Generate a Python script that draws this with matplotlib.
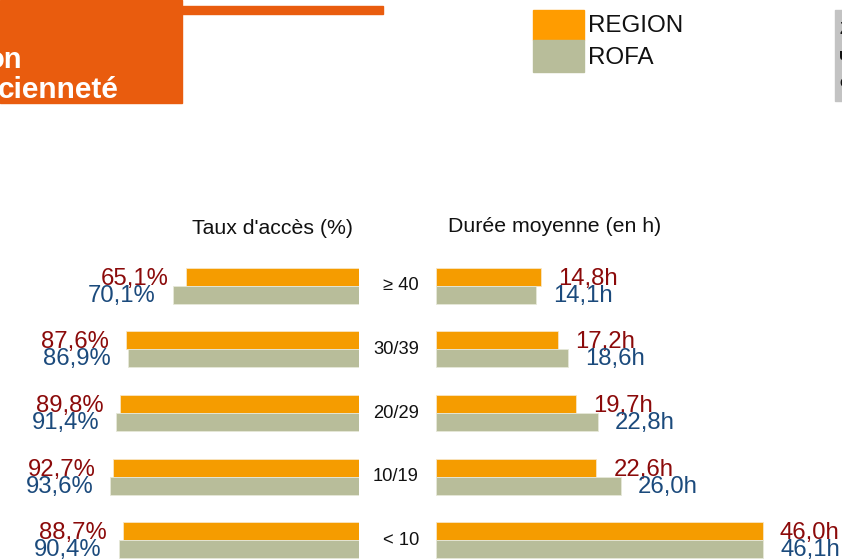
import matplotlib
matplotlib.use("Agg")
import matplotlib.pyplot as plt
from matplotlib.patches import Rectangle

plt.rcParams['font.family'] = ['Liberation Sans', 'DejaVu Sans']

categories = ["≥ 40", "30/39", "20/29", "10/19", "< 10"]
taux_region = [65.1, 87.6, 89.8, 92.7, 88.7]
taux_rofa = [70.1, 86.9, 91.4, 93.6, 90.4]
duree_region = [14.8, 17.2, 19.7, 22.6, 46.0]
duree_rofa = [14.1, 18.6, 22.8, 26.0, 46.1]
series_names = ["REGION", "ROFA"]

C_OR = "#F59C00"
C_GR = "#B8BD9A"
C_RED = "#8B0A0A"
C_BLUE = "#1B4A7C"
C_HEAD = "#E95C0E"

W, H = 842, 560
fig = plt.figure(figsize=(W / 100, H / 100), dpi=100)


def fx(px):
    return px / W


def fy(py):
    return 1 - py / H


def axes_px(x0, x1, y0, y1):
    return fig.add_axes([fx(x0), fy(y1), fx(x1) - fx(x0), fy(y0) - fy(y1)])

# header decorations
fig.patches.append(Rectangle((0, fy(103)), fx(182), fy(0) - fy(103),
                             transform=fig.transFigure, color=C_HEAD, zorder=0))
fig.patches.append(Rectangle((fx(182), fy(14)), fx(383) - fx(182), fy(6) - fy(14),
                             transform=fig.transFigure, color=C_HEAD, zorder=0))
fig.text(fx(22), fy(68), "on", ha="right", va="baseline", color="white",
         fontsize=21, fontweight="bold")
fig.text(fx(119), fy(98), "cienneté", ha="right", va="baseline", color="white",
         fontsize=21.5, fontweight="bold")

# right grey box
fig.patches.append(Rectangle((fx(835), fy(101)), fx(842) - fx(835), fy(10) - fy(101),
                             transform=fig.transFigure, color="#C3C3C3", zorder=0))
for ch, yy in zip(["Z", "u", "c"], [34, 60, 87]):
    fig.text(fx(839), fy(yy), ch, ha="left", va="baseline", color="#111111",
             fontsize=12, fontweight="bold")

# legend
fig.patches.append(Rectangle((fx(533), fy(40)), fx(584) - fx(533), fy(10) - fy(40),
                             transform=fig.transFigure, color="#FF9C00", zorder=0))
fig.patches.append(Rectangle((fx(533), fy(72)), fx(584) - fx(533), fy(40) - fy(72),
                             transform=fig.transFigure, color=C_GR, zorder=0))
fig.text(fx(588), fy(26), series_names[0], ha="left", va="center", fontsize=17.4, color="#111111")
fig.text(fx(588), fy(58), series_names[1], ha="left", va="center", fontsize=17.4, color="#111111")

# titles
fig.text(fx(272), fy(229), "Taux d'accès (%)", ha="center", va="center", fontsize=15.3, color="#111111")
fig.text(fx(555), fy(227), "Durée moyenne (en h)", ha="center", va="center", fontsize=15.3, color="#111111")

row0 = 285.7
step = 63.65
top_px = row0 - 0.5 * step
bot_px = row0 + 4.3 * step
bh = 18 / step

ax_l = axes_px(93.3, 359, top_px, bot_px)
ax_r = axes_px(436, 791, top_px, bot_px)

ypos = list(range(len(categories)))
for ax in (ax_l, ax_r):
    ax.set_ylim(4.3, -0.5)
    ax.axis("off")
ax_l.set_xlim(100, 0)
ax_r.set_xlim(0, 50)

y_or = [y - bh / 2 for y in ypos]
y_gr = [y + bh / 2 for y in ypos]

ax_l.barh(y_or, taux_region, height=bh, color=C_OR, edgecolor="#F8E6C4", linewidth=0.6)
ax_l.barh(y_gr, taux_rofa, height=bh, color=C_GR, edgecolor="#E6E8D8", linewidth=0.6)
ax_r.barh(y_or, duree_region, height=bh, color=C_OR, edgecolor="#F8E6C4", linewidth=0.6)
ax_r.barh(y_gr, duree_rofa, height=bh, color=C_GR, edgecolor="#E6E8D8", linewidth=0.6)


def fmt(v, suffix):
    return f"{v:.1f}".replace(".", ",") + suffix

LFS = 17.2
for i in ypos:
    ax_l.annotate(fmt(taux_region[i], "%"), (taux_region[i], y_or[i]), xytext=(-17, -2),
                  textcoords="offset pixels", ha="right", va="center", fontsize=LFS, color=C_RED,
                  annotation_clip=False)
    ax_l.annotate(fmt(taux_rofa[i], "%"), (taux_rofa[i], y_gr[i]), xytext=(-17, -1),
                  textcoords="offset pixels", ha="right", va="center", fontsize=LFS, color=C_BLUE,
                  annotation_clip=False)
    ax_r.annotate(fmt(duree_region[i], "h"), (duree_region[i], y_or[i]), xytext=(17, -2),
                  textcoords="offset pixels", ha="left", va="center", fontsize=LFS, color=C_RED,
                  annotation_clip=False)
    ax_r.annotate(fmt(duree_rofa[i], "h"), (duree_rofa[i], y_gr[i]), xytext=(17, -1),
                  textcoords="offset pixels", ha="left", va="center", fontsize=LFS, color=C_BLUE,
                  annotation_clip=False)
    fig.text(fx(419), fy(row0 + i * step), categories[i], ha="right", va="center",
             fontsize=13.2, color="#111111")

fig.savefig("out.png", dpi=100)
